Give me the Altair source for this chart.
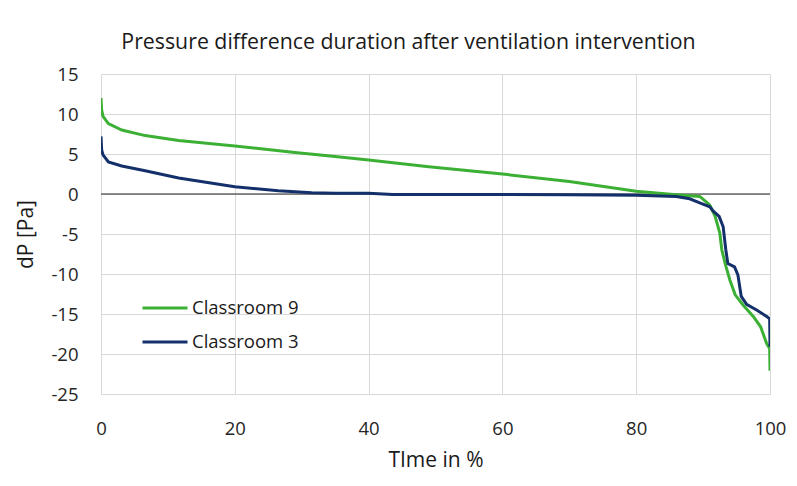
import altair as alt
import pandas as pd

# Classroom 9 (green) duration curve
c9_time = [0, 0.1, 0.3, 1.1, 3.1, 6.6, 11.6, 20, 29, 35, 40, 49, 60, 70, 80, 86, 89.5,
           90.5, 91, 91.8, 92.5, 92.8, 93.3, 94.0, 94.8, 96, 97.5, 98.6, 99.5, 99.95, 100]
c9_dp = [12.0, 10.5, 9.7, 8.8, 8.0, 7.3, 6.7, 6.0, 5.2, 4.7, 4.25, 3.4, 2.5, 1.55, 0.35, -0.1, -0.3,
         -1.0, -1.4, -2.8, -4.9, -7.0, -8.7, -10.75, -12.6, -13.9, -15.3, -16.6, -18.7, -19.3, -22.1]

# Classroom 3 (dark blue) duration curve
c3_time = [0, 0.1, 0.3, 1.1, 3.1, 6.6, 11.6, 20, 26.5, 31.5, 35, 40, 43.6, 60, 70, 80, 86, 88,
           89.5, 91, 91.6, 92.4, 93, 93.4, 93.7, 94.7, 95.2, 95.7, 96.5, 98, 99.5, 99.95, 100]
c3_dp = [7.2, 5.5, 4.9, 4.0, 3.5, 2.9, 2.0, 0.9, 0.4, 0.16, 0.1, 0.1, -0.05, -0.05, -0.08, -0.15, -0.3, -0.6,
         -1.1, -1.6, -2.2, -2.8, -4.1, -7.0, -8.7, -9.1, -10.1, -12.8, -13.8, -14.5, -15.3, -15.6, -19.1]

x_ticks = [0, 20, 40, 60, 80, 100]
y_ticks = [-25, -20, -15, -10, -5, 0, 5, 10, 15]

series_names = ["Classroom 9", "Classroom 3"]
series_colors = ["#3cb034", "#13306b"]

rows = []
for i, (t, v) in enumerate(zip(c9_time, c9_dp)):
    rows.append({"series": series_names[0], "time": t, "dp": v, "idx": i})
for i, (t, v) in enumerate(zip(c3_time, c3_dp)):
    rows.append({"series": series_names[1], "time": t, "dp": v, "idx": i})
df = pd.DataFrame(rows)

FONT = "Open Sans"
LBL = "#262626"
TTL = "#1a1a1a"

x_scale = alt.Scale(domain=[0, 100], nice=False, zero=False)
y_scale = alt.Scale(domain=[-25, 15], nice=False, zero=False)

x_axis = alt.Axis(title="TIme in %", values=x_ticks, grid=True,
                  gridColor="#d9d9d9", domain=False, ticks=False, labelFontSize=18.5,
                  labelPadding=25, labelColor=LBL, labelFont=FONT, titleFont=FONT,
                  titleFontSize=21, titleFontWeight="normal", titleColor=TTL,
                  titlePadding=12, labelFlush=False, labelOverlap=False)
y_axis = alt.Axis(title="dP [Pa]", values=y_ticks, grid=True,
                  gridColor="#d9d9d9", domain=False, ticks=False, labelFontSize=18.5,
                  labelPadding=23, labelColor=LBL, labelFont=FONT, titleFont=FONT,
                  titleFontSize=21, titleFontWeight="normal", titleColor=TTL,
                  titlePadding=14, labelOverlap=False, labelExpr="datum.value + ''")

lines = alt.Chart(df).mark_line(strokeWidth=3, clip=True).encode(
    x=alt.X("time:Q", scale=x_scale, axis=x_axis),
    y=alt.Y("dp:Q", scale=y_scale, axis=y_axis),
    color=alt.Color("series:N", scale=alt.Scale(domain=series_names, range=series_colors),
                    legend=alt.Legend(title=None, orient="none", legendX=40, legendY=210,
                                      symbolType="stroke", symbolStrokeWidth=3, symbolSize=2025,
                                      labelFontSize=18.5, labelFont=FONT, labelColor=TTL,
                                      labelOffset=3, rowPadding=0)),
    order="idx:Q",
)

zero = alt.Chart(pd.DataFrame({"z": [0]})).mark_rule(color="#222222", strokeWidth=1).encode(
    y=alt.Y("z:Q", scale=y_scale, axis=y_axis)
)

chart = alt.layer(zero, lines).properties(
    width=669, height=320,
    padding={"left": 93, "top": 66, "right": 19, "bottom": 80},
    autosize=alt.AutoSizeParams(type="none"),
    title=alt.TitleParams("Pressure difference duration after ventilation intervention",
                          font=FONT, fontSize=21.3, fontWeight="normal", color=TTL,
                          offset=12, dx=-27, anchor="middle"),
).configure_view(stroke=None)

chart.save("out.html", embed_options={"renderer": "svg", "actions": False})
